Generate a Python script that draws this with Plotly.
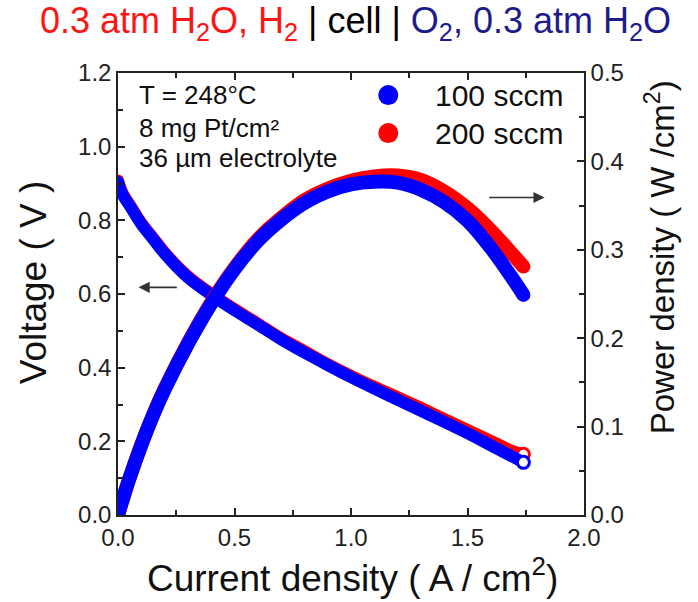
import plotly.graph_objects as go

# ---- data ----
current = [0, 0.02, 0.05, 0.1, 0.15, 0.2, 0.3, 0.4, 0.5, 0.6, 0.7, 0.8, 0.9,
           1.0, 1.1, 1.2, 1.3, 1.4, 1.5, 1.6, 1.7, 1.74]
v_100 = [0.905, 0.87, 0.84, 0.79, 0.75, 0.71, 0.645, 0.598, 0.556, 0.517, 0.477,
         0.441, 0.407, 0.374, 0.343, 0.313, 0.283, 0.253, 0.222, 0.189, 0.156, 0.143]
p_100 = [0, 0.0174, 0.042, 0.079, 0.1125, 0.142, 0.1935, 0.239, 0.278, 0.31, 0.334,
         0.353, 0.366, 0.374, 0.377, 0.376, 0.368, 0.354, 0.333, 0.302, 0.265, 0.249]
v_200 = [0.908, 0.873, 0.843, 0.793, 0.753, 0.713, 0.648, 0.601, 0.559, 0.52, 0.48,
         0.445, 0.41, 0.378, 0.348, 0.32, 0.291, 0.261, 0.231, 0.201, 0.172, 0.165]
p_200 = [0, 0.0175, 0.0422, 0.0795, 0.113, 0.1428, 0.1945, 0.2405, 0.2795, 0.312, 0.336,
         0.356, 0.369, 0.378, 0.383, 0.384, 0.379, 0.366, 0.347, 0.322, 0.293, 0.281]

series = [("200 sccm", v_200, p_200, "#ff0000"), ("100 sccm", v_100, p_100, "#0000ff")]

FONT = "Liberation Sans, Arial, sans-serif"
AX = "#222222"

fig = go.Figure()
for name, v, p, col in series:
    # voltage (open circles, overlapping -> band)
    fig.add_trace(go.Scatter(x=current, y=v, mode="lines", line=dict(color=col, width=12, shape="spline"),
                             showlegend=False, yaxis="y"))
    fig.add_trace(go.Scatter(x=[current[0]], y=[v[0]], mode="markers",
                             marker=dict(color=col, size=12), showlegend=False, yaxis="y"))
    fig.add_trace(go.Scatter(x=[current[-1]], y=[v[-1]], mode="markers",
                             marker=dict(color="white", size=12, line=dict(color=col, width=3)),
                             showlegend=False, yaxis="y"))
    # power (filled circles, overlapping -> band)
    fig.add_trace(go.Scatter(x=current, y=p, mode="lines", line=dict(color=col, width=14, shape="spline"),
                             showlegend=False, yaxis="y2"))
    fig.add_trace(go.Scatter(x=[current[-1]], y=[p[-1]], mode="markers",
                             marker=dict(color=col, size=14), showlegend=False, yaxis="y2"))

tickfont = dict(family=FONT, size=24, color=AX)
common = dict(showline=True, linecolor=AX, linewidth=1.5, ticks="inside", ticklen=7, tickwidth=1.5,
              tickcolor=AX, tickfont=tickfont, showgrid=False, zeroline=False, tickformat=".1f")

fig.update_layout(
    width=698, height=602,
    margin=dict(l=118, r=114, t=73, b=87),
    paper_bgcolor="white", plot_bgcolor="white",
    xaxis=dict(range=[0, 2], dtick=0.5, mirror="ticks",
               minor=dict(dtick=0.25, ticks="inside", ticklen=5, tickwidth=1.5, tickcolor=AX), **common),
    yaxis=dict(range=[0, 1.2], dtick=0.2, mirror=True,
               minor=dict(dtick=0.1, ticks="inside", ticklen=5, tickwidth=1.5, tickcolor=AX), **common),
    yaxis2=dict(range=[0, 0.5], dtick=0.1, overlaying="y", side="right",
                minor=dict(dtick=0.05, ticks="inside", ticklen=5, tickwidth=1.5, tickcolor=AX), **common),
    showlegend=False,
)

ann = []
# title
ann.append(dict(xref="paper", yref="paper", x=-0.172, y=1.113, xanchor="left", yanchor="middle",
                showarrow=False, font=dict(family=FONT, size=36),
                text='<span style="color:#ff1414">0.3 atm H<sub>2</sub>O, H<sub>2</sub></span>'
                     '<span style="color:#000000"> | cell | </span>'
                     '<span style="color:#1c1c8c">O<sub>2</sub>, 0.3 atm H<sub>2</sub>O</span>'))
# axis titles
ann.append(dict(xref="paper", yref="paper", x=0.504, y=-0.136, xanchor="center", yanchor="middle",
                showarrow=False, font=dict(family=FONT, size=37, color="#111"),
                text="Current density ( A / cm<sup>2</sup>)"))
ann.append(dict(xref="paper", yref="paper", x=-0.182, y=0.527, xanchor="center", yanchor="middle",
                showarrow=False, textangle=-90, font=dict(family=FONT, size=37, color="#111"),
                text="Voltage ( V )"))
ann.append(dict(xref="paper", yref="paper", x=1.163, y=0.583, xanchor="center", yanchor="middle",
                showarrow=False, textangle=-90, font=dict(family=FONT, size=33, color="#111"),
                text="Power density ( W /cm<sup>2</sup>)"))
# conditions text
for txt, yy in [("T = 248°C", 0.950), ("8 mg Pt/cm²", 0.876), ("36 µm electrolyte", 0.808)]:
    ann.append(dict(xref="paper", yref="paper", x=0.040, y=yy, xanchor="left", yanchor="middle",
                    showarrow=False, font=dict(family=FONT, size=26, color="#111"), text=txt))
# legend texts
for (name, v, p, col), yy in zip(series[::-1], [0.950, 0.864]):
    ann.append(dict(xref="paper", yref="paper", x=0.676, y=yy, xanchor="left", yanchor="middle",
                    showarrow=False, font=dict(family=FONT, size=30, color="#111"), text=name))
# arrows
ann.append(dict(x=0.088, y=0.618, ax=0.259, ay=0.618, xref="x", yref="y", axref="x", ayref="y",
                showarrow=True, arrowhead=2, arrowsize=1.4, arrowwidth=1.6, arrowcolor="#333", text=""))
ann.append(dict(x=1.831, y=0.862, ax=1.587, ay=0.862, xref="x", yref="y", axref="x", ayref="y",
                showarrow=True, arrowhead=2, arrowsize=1.4, arrowwidth=1.6, arrowcolor="#333", text=""))
fig.update_layout(annotations=ann)

# legend symbols
shapes = []
for (name, v, p, col), yy in zip(series[::-1], [0.950, 0.864]):
    shapes.append(dict(type="circle", xref="paper", yref="paper", xsizemode="pixel", ysizemode="pixel",
                       xanchor=0.580, yanchor=yy, x0=-10, x1=10, y0=-10, y1=10,
                       fillcolor=col, line=dict(width=0)))
fig.update_layout(shapes=shapes)

fig.write_html("out.html")
